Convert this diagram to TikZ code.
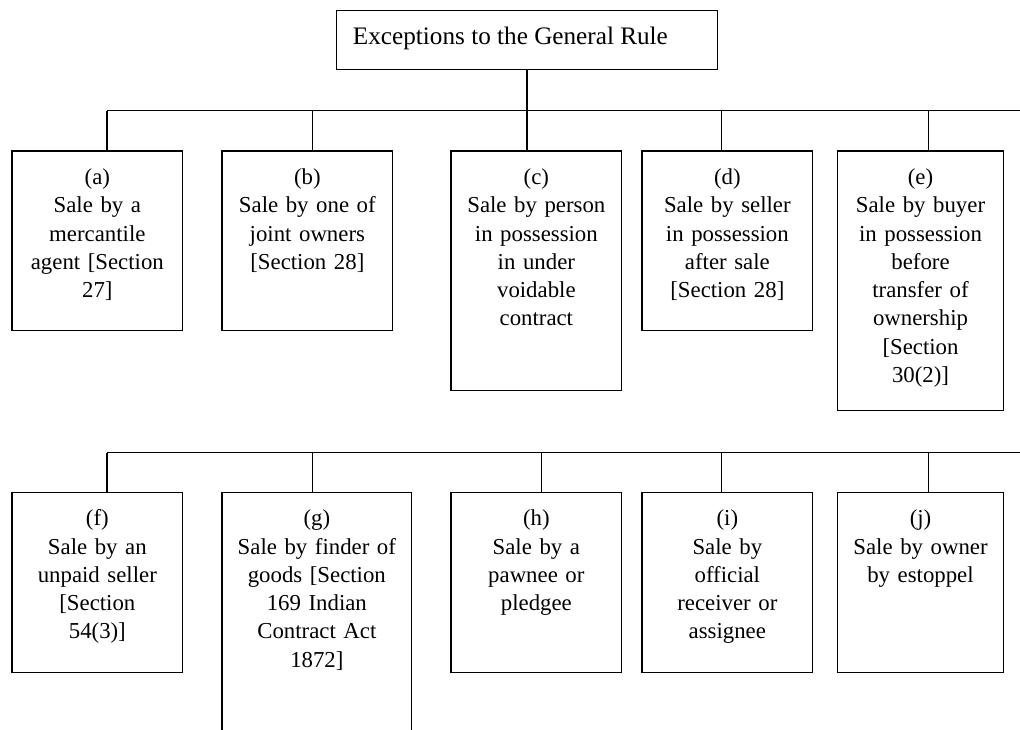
\documentclass[tikz,border=0pt]{standalone}
\usepackage{fontspec}
\setmainfont{Liberation Serif}
\usetikzlibrary{fit,calc}
\tikzset{
  box/.style={draw=black, line width=0.9pt, inner sep=0pt, outer sep=0pt, rectangle},
  conn/.style={draw=black, line width=0.8pt},
  txt/.style={anchor=base, inner sep=0pt, text width=150pt, align=center,
    font=\fontsize{17.1}{21.2}\selectfont},
  ttl/.style={anchor=base west, inner sep=0pt, font=\fontsize{18.9}{22}\selectfont}
}
\begin{document}
\begin{tikzpicture}[x=0.75pt, y=-0.75pt]
\useasboundingbox (0,0) rectangle (1020,729);
% title
\node[box, fit={(336.7,10.7) (717.3,69.3)}] (top) {};
\node[ttl] (toptext) at ($(top.north west)+(16,33.6)$) {Exceptions to the General Rule};
% row 1 boxes
\node[box, fit={(12,151) (182.7,330.7)}] (a) {};
\node[box, fit={(222,151) (392.7,330.7)}] (b) {};
\node[box, fit={(451,151) (621.7,390.7)}] (c) {};
\node[box, fit={(642,151) (812.7,330.7)}] (d) {};
\node[box, fit={(837.7,151) (1003.3,410.7)}] (e) {};
% row 2 boxes
\node[box, fit={(12,492.3) (182.7,672.3)}] (f) {};
\node[box, fit={(222,492.3) (411.7,790)}] (g) {};
\node[box, fit={(451,492.3) (621.7,672.3)}] (h) {};
\node[box, fit={(642,492.3) (812.7,672.3)}] (i) {};
\node[box, fit={(837.7,492.3) (1003.3,672.3)}] (j) {};
% texts
\node[txt] (ta) at ($(a.north)+(0,33.5)$) {(a)\\Sale by a\\mercantile\\agent [Section\\27]};
\node[txt] (tb) at ($(b.north)+(0,33.5)$) {(b)\\Sale by one of\\joint owners\\{}[Section 28]};
\node[txt] (tc) at ($(c.north)+(0,33.5)$) {(c)\\Sale by person\\in possession\\in under\\voidable\\contract};
\node[txt] (td) at ($(d.north)+(0,33.5)$) {(d)\\Sale by seller\\in possession\\after sale\\{}[Section 28]};
\node[txt] (te) at ($(e.north)+(0,33.5)$) {(e)\\Sale by buyer\\in possession\\before\\transfer of\\ownership\\{}[Section\\30(2)]};
\node[txt] (tf) at ($(f.north)+(0,33.5)$) {(f)\\Sale by an\\unpaid seller\\{}[Section\\54(3)]};
\node[txt] (tg) at ($(g.north)+(0,33.5)$) {(g)\\Sale by finder of\\goods [Section\\169 Indian\\Contract Act\\1872]};
\node[txt] (th) at ($(h.north)+(0,33.5)$) {(h)\\Sale by a\\pawnee or\\pledgee};
\node[txt] (ti) at ($(i.north)+(0,33.5)$) {(i)\\Sale by\\official\\receiver or\\assignee};
\node[txt] (tj) at ($(j.north)+(0,33.5)$) {(j)\\Sale by owner\\by estoppel};
% bus 1
\coordinate (pa) at (107,110.7);
\coordinate (pb) at (312.7,110.7);
\coordinate (pd) at (721.3,110.7);
\coordinate (pe) at (928.3,110.7);
\coordinate (pend1) at (1025,110.7);
\draw[conn] (pa) -- (pend1);
\draw[conn] (top.south) -- (top.south |- c.north);
\draw[conn] (pa) -- (pa |- a.north);
\draw[conn] (pb) -- (pb |- b.north);
\draw[conn] (pd) -- (pd |- d.north);
\draw[conn] (pe) -- (pe |- e.north);
% bus 2
\coordinate (pf) at (107,452.7);
\coordinate (pg) at (312.7,452.7);
\coordinate (ph) at (541.7,452.7);
\coordinate (pi) at (721.3,452.7);
\coordinate (pj) at (928.3,452.7);
\coordinate (pend2) at (1025,452.7);
\draw[conn] (pf) -- (pend2);
\draw[conn] (pf) -- (pf |- f.north);
\draw[conn] (pg) -- (pg |- g.north);
\draw[conn] (ph) -- (ph |- h.north);
\draw[conn] (pi) -- (pi |- i.north);
\draw[conn] (pj) -- (pj |- j.north);
\end{tikzpicture}
\end{document}
